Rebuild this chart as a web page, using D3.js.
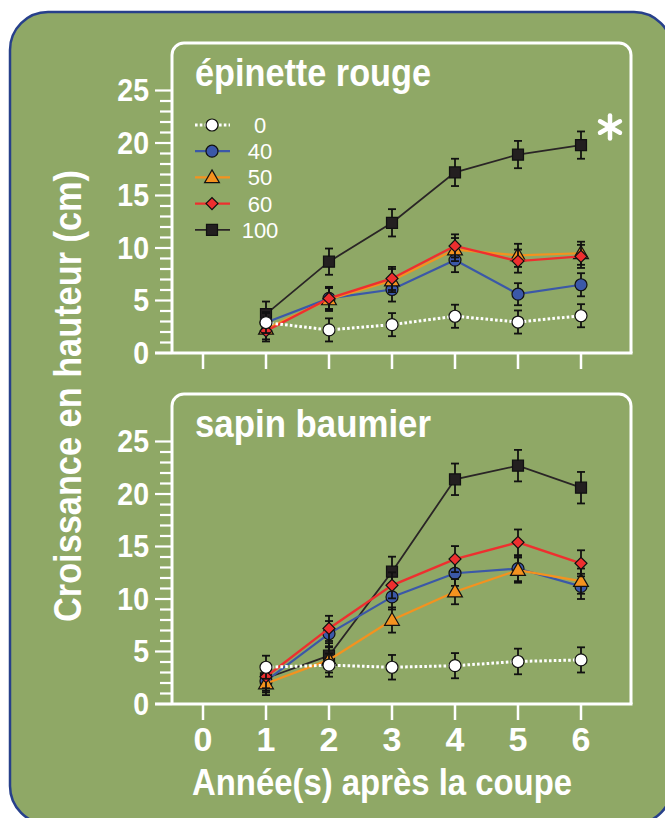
<!DOCTYPE html>
<html><head><meta charset="utf-8">
<script src="https://cdn.jsdelivr.net/npm/d3@7"></script>
<style>
html,body{margin:0;padding:0;background:#fff;}
svg{display:block;}
text{font-family:"Liberation Sans",Arial,Helvetica,sans-serif;fill:#fff;}
</style></head>
<body>
<svg id="chart" width="665" height="818"></svg>
<script>
// ---------- data ----------
const years = [1, 2, 3, 4, 5, 6];
const xTicks = [0, 1, 2, 3, 4, 5, 6];
const yTicks = [0, 5, 10, 15, 20, 25];
const yMinor = d3.range(0, 26, 1);
const treatments = ["0", "40", "50", "60", "100"];
const panelTitles = ["épinette rouge", "sapin baumier"];
const xTitle = "Année(s) après la coupe";
const yTitle = "Croissance en hauteur (cm)";

// épinette rouge (means, error)
const ep0    = [2.9, 2.2, 2.7, 3.5, 2.95, 3.55];
const ep0e   = [1.0, 1.1, 1.1, 1.1, 1.1, 1.1];
const ep40   = [2.9, 5.2, 6.05, 8.85, 5.6, 6.5];
const ep40e  = [0.9, 1.0, 1.15, 1.15, 1.05, 1.1];
const ep50   = [2.3, 5.1, 6.9, 9.85, 9.3, 9.5];
const ep50e  = [1.0, 1.1, 1.1, 1.1, 1.1, 1.1];
const ep60   = [2.1, 5.2, 7.1, 10.2, 8.75, 9.2];
const ep60e  = [1.0, 1.1, 1.1, 1.1, 1.1, 1.1];
const ep100  = [3.7, 8.7, 12.4, 17.2, 18.9, 19.8];
const ep100e = [1.2, 1.25, 1.3, 1.3, 1.3, 1.3];

// sapin baumier (means, error)
const sb0    = [3.5, 3.7, 3.5, 3.65, 4.05, 4.2];
const sb0e   = [1.1, 1.1, 1.17, 1.2, 1.22, 1.2];
const sb40   = [2.2, 6.7, 10.2, 12.45, 12.9, 11.2];
const sb40e  = [1.1, 1.2, 1.2, 1.2, 1.2, 1.2];
const sb50   = [1.95, 4.2, 8.0, 10.7, 12.75, 11.7];
const sb50e  = [1.1, 1.2, 1.2, 1.2, 1.2, 1.2];
const sb60   = [2.6, 7.2, 11.3, 13.8, 15.4, 13.4];
const sb60e  = [1.1, 1.2, 1.24, 1.24, 1.22, 1.24];
const sb100  = [2.45, 4.6, 12.6, 21.4, 22.7, 20.6];
const sb100e = [1.2, 1.2, 1.43, 1.5, 1.5, 1.5];

const panelData = [
  {"0": [ep0, ep0e], "40": [ep40, ep40e], "50": [ep50, ep50e], "60": [ep60, ep60e], "100": [ep100, ep100e]},
  {"0": [sb0, sb0e], "40": [sb40, sb40e], "50": [sb50, sb50e], "60": [sb60, sb60e], "100": [sb100, sb100e]}
];

// ---------- styles ----------
const style = {
  "0":   {line: "#ffffff", fill: "#ffffff", shape: "circle", dash: "2.6,2.2", width: 3},
  "40":  {line: "#3b58a8", fill: "#3b58a8", shape: "circle", dash: null, width: 2.2},
  "50":  {line: "#f4921f", fill: "#f4921f", shape: "triangle", dash: null, width: 2.2},
  "60":  {line: "#ee2f2f", fill: "#ee2f2f", shape: "diamond", dash: null, width: 2.4},
  "100": {line: "#2a2526", fill: "#231f20", shape: "square", dash: null, width: 1.8}
};
const drawOrder = ["100", "40", "50", "60", "0"];

const svg = d3.select("#chart");

// outer panel
svg.append("rect")
  .attr("x", 10).attr("y", 12).attr("width", 662).attr("height", 812)
  .attr("rx", 38).attr("ry", 38)
  .attr("fill", "#8fa866").attr("stroke", "#27408b").attr("stroke-width", 2.5);

const x = d3.scaleLinear().domain([0, 6]).range([203, 581]);
const frameL = 172, frameR = 631;
const panels = [
  {top: 43, y0: 353},
  {top: 394, y0: 704}
];

function marker(g, shape, cx, cy, fill) {
  let sel;
  if (shape === "circle") {
    sel = g.append("circle").attr("cx", cx).attr("cy", cy).attr("r", 6);
  } else if (shape === "triangle") {
    sel = g.append("path").attr("d", d3.symbol(d3.symbolTriangle, 95)())
      .attr("transform", `translate(${cx},${cy + 1})`);
  } else if (shape === "diamond") {
    sel = g.append("path").attr("d", d3.symbol(d3.symbolSquare, 72)())
      .attr("transform", `translate(${cx},${cy}) rotate(45)`);
  } else {
    sel = g.append("path").attr("d", d3.symbol(d3.symbolSquare, 121)())
      .attr("transform", `translate(${cx},${cy})`);
  }
  sel.attr("fill", fill).attr("stroke", "#111").attr("stroke-width", 1.2);
}

panels.forEach((p, pi) => {
  const y = d3.scaleLinear().domain([0, 25]).range([p.y0, p.y0 - 262.5]);
  const g = svg.append("g");
  const r = 12;

  // frame (y axis on left, rounded top corners)
  g.append("path")
    .attr("d", `M${frameL},${p.y0} V${p.top + r} A${r},${r} 0 0 1 ${frameL + r},${p.top} H${frameR - r} A${r},${r} 0 0 1 ${frameR},${p.top + r} V${p.y0}`)
    .attr("fill", "none").attr("stroke", "#fff").attr("stroke-width", 3);
  // x axis line
  g.append("line").attr("x1", 155).attr("x2", frameR + 1.5)
    .attr("y1", p.y0).attr("y2", p.y0).attr("stroke", "#fff").attr("stroke-width", 3);

  // y ticks
  g.selectAll(".ymin").data(yMinor).enter().append("line")
    .attr("x1", d => d % 5 === 0 ? 155 : 160).attr("x2", frameL)
    .attr("y1", d => y(d)).attr("y2", d => y(d))
    .attr("stroke", "#fff").attr("stroke-width", 2.2);
  g.selectAll(".ylab").data(yTicks).enter().append("text")
    .attr("x", 149).attr("y", d => y(d) + 11)
    .attr("text-anchor", "end").attr("font-size", 31).attr("font-weight", "bold")
    .attr("transform", d => `translate(149,${y(d)}) scale(0.92,1) translate(-149,${-y(d)})`)
    .text(d => d);

  // x ticks
  g.selectAll(".xt").data(xTicks).enter().append("line")
    .attr("x1", d => x(d)).attr("x2", d => x(d))
    .attr("y1", p.y0).attr("y2", p.y0 + 16)
    .attr("stroke", "#fff").attr("stroke-width", 2.5);
  if (pi === 1) {
    g.selectAll(".xl").data(xTicks).enter().append("text")
      .attr("x", d => x(d)).attr("y", p.y0 + 47)
      .attr("text-anchor", "middle").attr("font-size", 34).attr("font-weight", "bold")
      .text(d => d);
  }

  // title
  g.append("text").attr("x", 195).attr("y", p.top + 43)
    .attr("font-size", 38).attr("font-weight", "bold")
    .attr("textLength", 236).attr("lengthAdjust", "spacingAndGlyphs")
    .text(panelTitles[pi]);

  // series
  const line = d3.line().x((d, i) => x(years[i])).y(d => y(d));
  drawOrder.forEach(t => {
    const [vals, errs] = panelData[pi][t];
    const s = style[t];
    const sg = g.append("g");
    sg.append("path").attr("d", line(vals))
      .attr("fill", "none").attr("stroke", s.line).attr("stroke-width", s.width)
      .attr("stroke-dasharray", s.dash);
    vals.forEach((v, i) => {
      const cx = x(years[i]);
      const e = errs[i];
      sg.append("line").attr("x1", cx).attr("x2", cx)
        .attr("y1", y(v - e)).attr("y2", y(v + e))
        .attr("stroke", "#111").attr("stroke-width", 1.8);
      [v - e, v + e].forEach(yy => {
        sg.append("line").attr("x1", cx - 4).attr("x2", cx + 4)
          .attr("y1", y(yy)).attr("y2", y(yy))
          .attr("stroke", "#111").attr("stroke-width", 1.8);
      });
    });
    vals.forEach((v, i) => marker(sg, s.shape, x(years[i]), y(v), s.fill));
  });

  if (pi === 0) {
    // legend
    const lg = g.append("g");
    treatments.forEach((t, i) => {
      const ly = 125 + i * 26.2;
      const s = style[t];
      lg.append("line").attr("x1", 195).attr("x2", 230).attr("y1", ly).attr("y2", ly)
        .attr("stroke", s.line).attr("stroke-width", s.width).attr("stroke-dasharray", s.dash);
      marker(lg, s.shape, 212, ly, s.fill);
      lg.append("text").attr("x", 260).attr("y", ly + 8)
        .attr("text-anchor", "middle").attr("font-size", 22)
        .text(t);
    });
    // asterisk (significance mark), six arms
    const ag = g.append("g").attr("transform", "translate(610,127)");
    [90, 30, 150].forEach(a => {
      const rad = a * Math.PI / 180, L = 11.5;
      ag.append("line")
        .attr("x1", -L * Math.cos(rad)).attr("y1", -L * Math.sin(rad))
        .attr("x2", L * Math.cos(rad)).attr("y2", L * Math.sin(rad))
        .attr("stroke", "#fff").attr("stroke-width", 4.5).attr("stroke-linecap", "round");
    });
  }
});

// axis titles
svg.append("text").attr("x", 382).attr("y", 795)
  .attr("text-anchor", "middle").attr("font-size", 37).attr("font-weight", "bold")
  .attr("textLength", 380).attr("lengthAdjust", "spacingAndGlyphs")
  .text(xTitle);
svg.append("text").attr("transform", "translate(81,396) rotate(-90)")
  .attr("text-anchor", "middle").attr("font-size", 39).attr("font-weight", "bold")
  .attr("textLength", 452).attr("lengthAdjust", "spacingAndGlyphs")
  .text(yTitle);
</script>
</body></html>
